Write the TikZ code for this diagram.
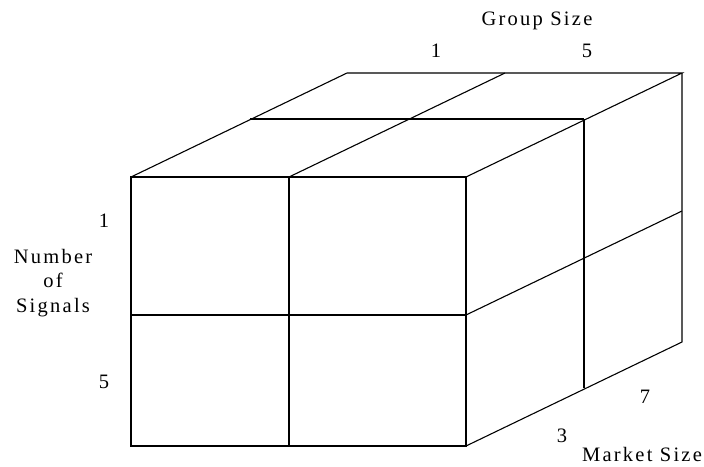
\documentclass[tikz,border=0pt]{standalone}
\usepackage{fontspec}
\setmainfont{Liberation Serif}
\newfontfamily\spaced[LetterSpace=11]{Liberation Serif}
\begin{document}
\begin{tikzpicture}[x=1pt,y=-1pt,
  edge/.style={line width=1.1pt,line join=miter},
  word/.style={font=\fontsize{20.5}{24.5}\selectfont\spaced,inner sep=0pt,anchor=base},
  num/.style={font=\fontsize{20.5}{24.5}\selectfont,inner sep=0pt,anchor=base}]
\useasboundingbox (0,0) rectangle (704,466);
% front face
\coordinate (ftl) at (131,177);
\coordinate (ftr) at (466,177);
\coordinate (fbl) at (131,446);
\coordinate (fbr) at (466,446);
\coordinate (fml) at (131,315);
\coordinate (fmr) at (466,315);
\coordinate (fmt) at (289,177);
\coordinate (fmb) at (289,446);
% back
\coordinate (btl) at (347,73);
\coordinate (btr) at (682,73);
\coordinate (bbr) at (682,342);
\coordinate (bmr) at (682,211);
\coordinate (bmt) at (505,73);
% middle depth
\coordinate (mtl) at (250,119);
\coordinate (mtr) at (584,119);
\coordinate (mbr) at (584,388);
% front face
\draw[edge] (ftl) rectangle (fbr);
\draw[edge] (fml) -- (fmr);
\draw[edge] (fmt) -- (fmb);
% top face
\draw[edge] (ftl) -- (btl) -- (btr) -- (ftr);
\draw[edge] (fmt) -- (bmt);
\draw[edge] (mtl) -- (mtr);
% right face
\draw[edge] (btr) -- (bbr) -- (fbr);
\draw[edge] (fmr) -- (bmr);
\draw[edge] (mtr) -- (mbr);
% labels
\node[word] (gs) at (537,25) {Group Size};
\node[num] (g1) at (436,57) {1};
\node[num] (g5) at (587,57) {5};
\node[num] (s1) at (104,227) {1};
\node[num] (s5) at (104,388) {5};
\node[font=\fontsize{20.5}{24.5}\selectfont\spaced,inner sep=0pt,align=center] (ns) at (53,283) {Number\\of\\Signals};
\node[num] (m7) at (645,403) {7};
\node[num] (m3) at (562,442) {3};
\node[word] (ms) at (642,461) {Market Size};
\end{tikzpicture}
\end{document}
